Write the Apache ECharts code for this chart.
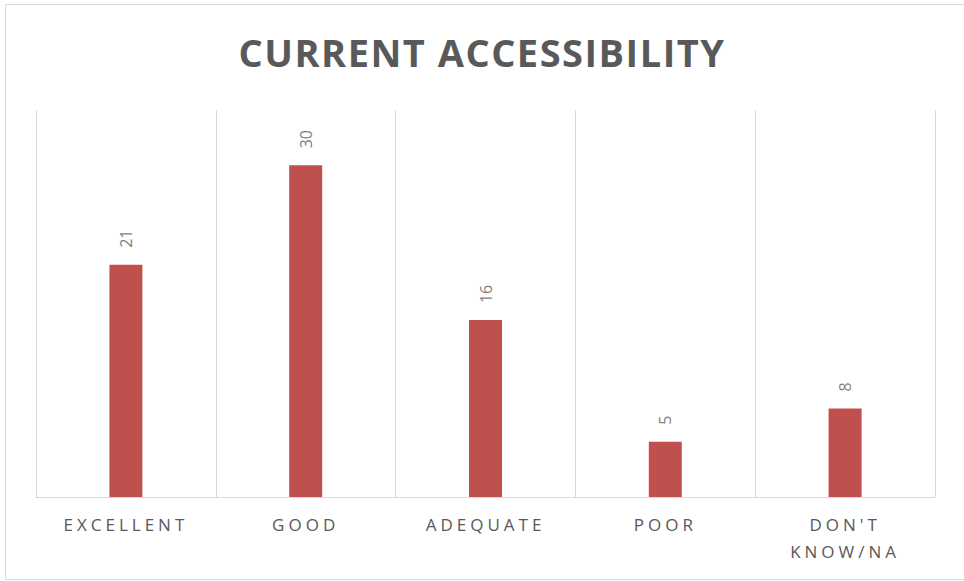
<!DOCTYPE html>
<html><head><meta charset="utf-8">
<script src="https://cdn.jsdelivr.net/npm/echarts@6/dist/echarts.min.js"></script>
<style>html,body{margin:0;padding:0;background:#fff}#c{width:964px;height:581px}</style>
</head><body><div id="c"></div>
<script>
const titleText = 'CURRENT ACCESSIBILITY';
const categories = ['EXCELLENT', 'GOOD', 'ADEQUATE', 'POOR', "DON'T\nKNOW/NA"];
const values = [21, 30, 16, 5, 8];

const chart = echarts.init(document.getElementById('c'), null, {renderer: 'svg'});
chart.setOption({
  animation: false,
  backgroundColor: '#fff',
  graphic: [{type: 'rect', shape: {x: 5.5, y: 4.5, width: 1000, height: 575}, style: {fill: 'none', stroke: '#d9d9d9', lineWidth: 1}, silent: true}],
  title: {text: titleText, left: 'center', top: 28, textStyle: {fontFamily: 'Open Sans', fontWeight: 'bold', fontSize: 38, color: '#595959'}},
  grid: {left: 36, right: 29, top: 110, bottom: 84},
  xAxis: {
    type: 'category', data: categories,
    axisLine: {lineStyle: {color: '#d9d9d9'}},
    axisTick: {show: false},
    splitLine: {show: true, lineStyle: {color: '#d9d9d9', width: 1}},
    axisLabel: {fontFamily: 'Open Sans', fontSize: 17, color: '#595959', margin: 14, lineHeight: 27, interval: 0}
  },
  yAxis: {type: 'value', min: 0, max: 35, interval: 5, show: false, splitLine: {show: false}},
  series: [{
    type: 'bar', data: values, barWidth: 33,
    itemStyle: {color: '#C0504D'},
    label: {show: true, position: 'top', rotate: 90, align: 'left', verticalAlign: 'middle', distance: 17,
      fontFamily: 'Open Sans', fontSize: 16, color: '#7f7f7f'}
  }]
});
function spacing() {
  const texts = document.querySelectorAll('#c svg text');
  texts.forEach(t => {
    const s = t.textContent.trim();
    if (s === titleText) t.setAttribute('letter-spacing', '1.5');
    else if (/^[0-9]+$/.test(s)) {}
    else t.setAttribute('letter-spacing', '4');
  });
}
spacing();
chart.on('finished', spacing);
</script></body></html>
